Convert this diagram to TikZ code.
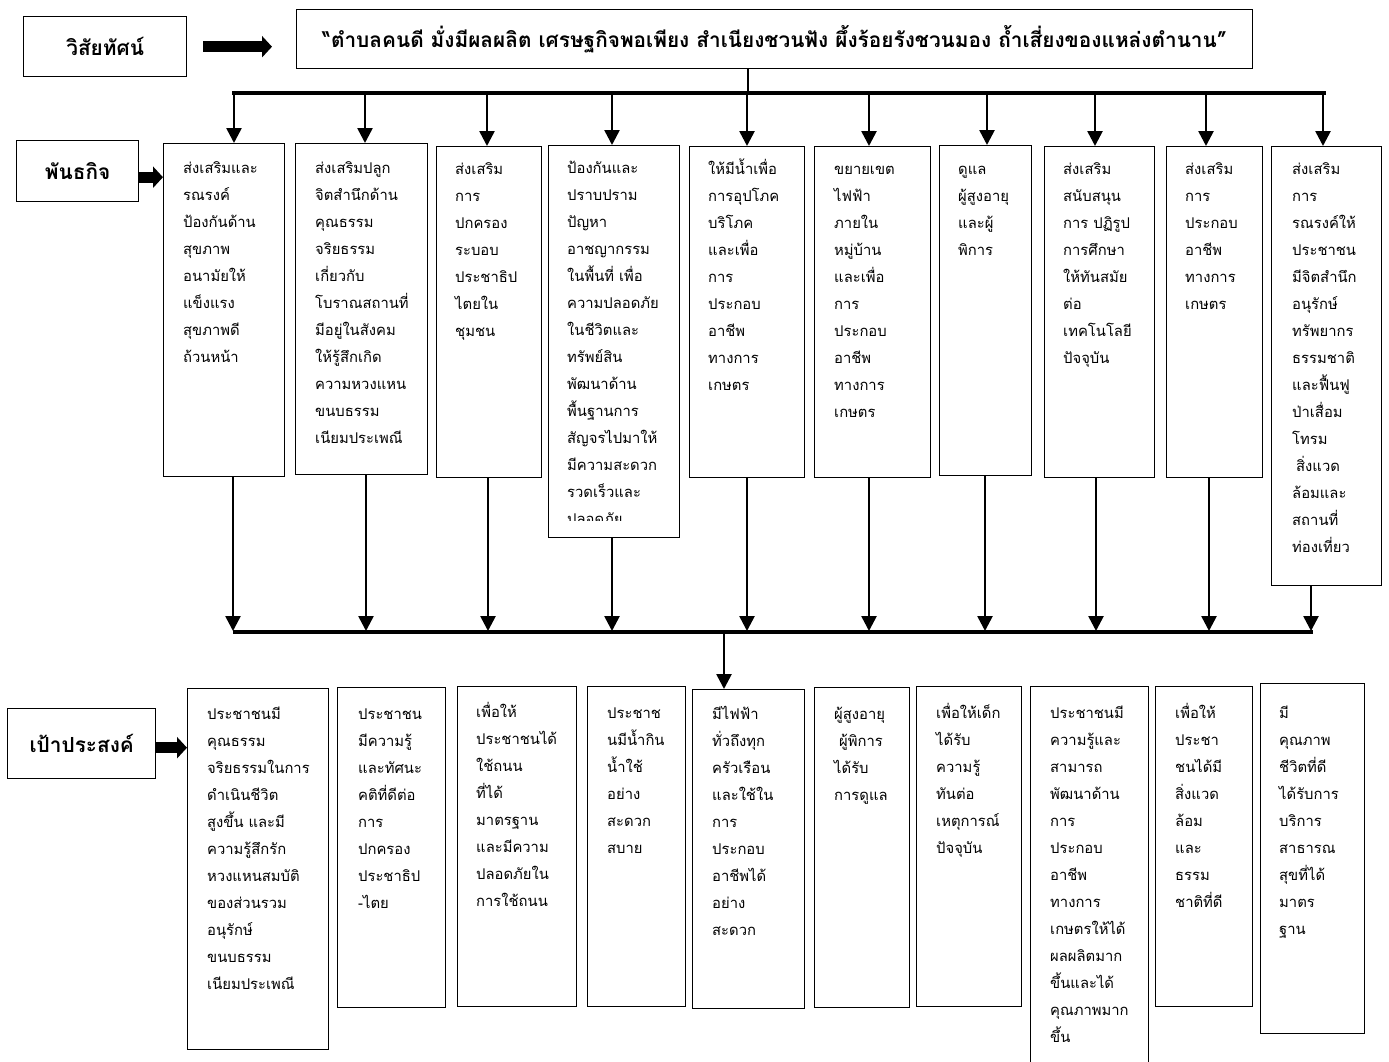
\documentclass[tikz,border=0pt]{standalone}
\usepackage{fontspec}
\newfontfamily\thaifont[Script=Thai]{Loma}
\usetikzlibrary{positioning,arrows.meta}

\tikzset{
	card/.style={draw, line width=1.4pt, anchor=north west, inner sep=0pt},
	title/.style={card, font=\thaifont\bfseries\fontsize{20.8}{24}\selectfont},
	words/.style={anchor=base west, inner sep=0pt, text width=125pt, align=left, font=\thaifont\fontsize{14.8}{27}\selectfont},
	flow/.style={line width=2.6pt, -{Triangle[width=15pt,length=15pt]}},
	bus/.style={line width=4pt},
	fat/.style={line width=11pt, -{Triangle[width=21pt,length=10pt]}}
}

\begin{document}
\begin{tikzpicture}[x=1pt,y=-1pt]
		\useasboundingbox (0,0) rectangle (1389,1061);
		
		% vision
		\node[title, minimum width=163pt, minimum height=60pt] (vis) at (23,16) {วิสัยทัศน์};
		\node[title, minimum width=956pt, minimum height=59pt] (vision) at (296,9) {“ตำบลคนดี มั่งมีผลผลิต เศรษฐกิจพอเพียง สำเนียงชวนฟัง ผึ้งร้อยรังชวนมอง ถ้ำเสี่ยงของแหล่งตำนาน”};
		\draw[fat] ([xshift=16pt]vis.east) -- ([xshift=-24pt]vision.west |- vis.east);
		
		% mission boxes
		\node[title, minimum width=122pt, minimum height=61pt] (mis) at (16,140) {พันธกิจ};
		\node[card, minimum width=121pt, minimum height=333pt] (m1) at (163,143) {};
		\node[card, minimum width=132pt, minimum height=331pt] (m2) at (295,143) {};
		\node[card, minimum width=105pt, minimum height=331pt] (m3) at (436,146) {};
		\node[card, minimum width=131pt, minimum height=392pt] (m4) at (548,145) {};
		\node[card, minimum width=115pt, minimum height=331pt] (m5) at (689,146) {};
		\node[card, minimum width=116pt, minimum height=331pt] (m6) at (814,146) {};
		\node[card, minimum width=92pt, minimum height=330pt] (m7) at (939,145) {};
		\node[card, minimum width=110pt, minimum height=331pt] (m8) at (1044,146) {};
		\node[card, minimum width=96pt, minimum height=331pt] (m9) at (1166,146) {};
		\node[card, minimum width=110pt, minimum height=439pt] (m10) at (1271,146) {};
		\draw[fat] ([yshift=-6pt]mis.east) -- ([yshift=-6pt]mis.east -| m1.west);
		
		\node[words] (tm1) at ([shift={(20,30)}]m1.north west) {ส่งเสริมและ\\รณรงค์\\ป้องกันด้าน\\สุขภาพ\\อนามัยให้\\แข็งแรง\\สุขภาพดี\\ถ้วนหน้า};
		\node[words] (tm2) at ([shift={(20,30)}]m2.north west) {ส่งเสริมปลูก\\จิตสำนึกด้าน\\คุณธรรม\\จริยธรรม\\เกี่ยวกับ\\โบราณสถานที่\\มีอยู่ในสังคม\\ให้รู้สึกเกิด\\ความหวงแหน\\ขนบธรรม\\เนียมประเพณี};
		\node[words] (tm3) at ([shift={(19,28)}]m3.north west) {ส่งเสริม\\การ\\ปกครอง\\ระบอบ\\ประชาธิป\\ไตยใน\\ชุมชน};
		\begin{scope}
			\clip (548,145) rectangle (679,520);
			\node[words] (tm4) at ([shift={(19,28)}]m4.north west) {ป้องกันและ\\ปราบปราม\\ปัญหา\\อาชญากรรม\\ในพื้นที่ เพื่อ\\ความปลอดภัย\\ในชีวิตและ\\ทรัพย์สิน\\พัฒนาด้าน\\พื้นฐานการ\\สัญจรไปมาให้\\มีความสะดวก\\รวดเร็วและ\\ปลอดภัย};
		\end{scope}
		\node[words] (tm5) at ([shift={(19,28)}]m5.north west) {ให้มีน้ำเพื่อ\\การอุปโภค\\บริโภค\\และเพื่อ\\การ\\ประกอบ\\อาชีพ\\ทางการ\\เกษตร};
		\node[words] (tm6) at ([shift={(20,28)}]m6.north west) {ขยายเขต\\ไฟฟ้า\\ภายใน\\หมู่บ้าน\\และเพื่อ\\การ\\ประกอบ\\อาชีพ\\ทางการ\\เกษตร};
		\node[words] (tm7) at ([shift={(19,29)}]m7.north west) {ดูแล\\ผู้สูงอายุ\\และผู้\\พิการ};
		\node[words] (tm8) at ([shift={(19,28)}]m8.north west) {ส่งเสริม\\สนับสนุน\\การ ปฏิรูป\\การศึกษา\\ให้ทันสมัย\\ต่อ\\เทคโนโลยี\\ปัจจุบัน};
		\node[words] (tm9) at ([shift={(19,28)}]m9.north west) {ส่งเสริม\\การ\\ประกอบ\\อาชีพ\\ทางการ\\เกษตร};
		\node[words] (tm10) at ([shift={(21,28)}]m10.north west) {ส่งเสริม\\การ\\รณรงค์ให้\\ประชาชน\\มีจิตสำนึก\\อนุรักษ์\\ทรัพยากร\\ธรรมชาติ\\และฟื้นฟู\\ป่าเสื่อม\\โทรม\\\hspace*{4pt}สิ่งแวด\\ล้อมและ\\สถานที่\\ท่องเที่ยว};
		
		% upper bus
		\coordinate (top) at (748,93);
		\coordinate (ul) at (232,93);
		\coordinate (ur) at (1326,93);
		\draw[line width=2.6pt] (top |- vision.south) -- (top);
		\draw[bus] (ul) -- (ur);
		\coordinate (u1) at (234,93);
		\coordinate (u2) at (365,93);
		\coordinate (u3) at (487,93);
		\coordinate (u4) at (612,93);
		\coordinate (u5) at (747,93);
		\coordinate (u6) at (869,93);
		\coordinate (u7) at (987,93);
		\coordinate (u8) at (1095,93);
		\coordinate (u9) at (1206,93);
		\coordinate (u10) at (1323,93);
		\draw[flow] (u1) -- (u1 |- m1.north);
		\draw[flow] (u2) -- (u2 |- m2.north);
		\draw[flow] (u3) -- (u3 |- m3.north);
		\draw[flow] (u4) -- (u4 |- m4.north);
		\draw[flow] (u5) -- (u5 |- m5.north);
		\draw[flow] (u6) -- (u6 |- m6.north);
		\draw[flow] (u7) -- (u7 |- m7.north);
		\draw[flow] (u8) -- (u8 |- m8.north);
		\draw[flow] (u9) -- (u9 |- m9.north);
		\draw[flow] (u10) -- (u10 |- m10.north);
		
		% lower bus
		\coordinate (dl) at (233,632);
		\coordinate (dr) at (1313,632);
		\draw[bus] (dl) -- (dr);
		\coordinate (d1) at (233,631);
		\coordinate (d2) at (366,631);
		\coordinate (d3) at (488,631);
		\coordinate (d4) at (612,631);
		\coordinate (d5) at (747,631);
		\coordinate (d6) at (869,631);
		\coordinate (d7) at (985,631);
		\coordinate (d8) at (1096,631);
		\coordinate (d9) at (1209,631);
		\coordinate (d10) at (1311,631);
		\draw[flow] (d1 |- m1.south) -- (d1);
		\draw[flow] (d2 |- m2.south) -- (d2);
		\draw[flow] (d3 |- m3.south) -- (d3);
		\draw[flow] (d4 |- m4.south) -- (d4);
		\draw[flow] (d5 |- m5.south) -- (d5);
		\draw[flow] (d6 |- m6.south) -- (d6);
		\draw[flow] (d7 |- m7.south) -- (d7);
		\draw[flow] (d8 |- m8.south) -- (d8);
		\draw[flow] (d9 |- m9.south) -- (d9);
		\draw[flow] (d10 |- m10.south) -- (d10);
		
		% goal boxes
		\node[title, minimum width=148pt, minimum height=70pt] (goal) at (7,708) {เป้าประสงค์};
		\node[card, minimum width=141pt, minimum height=361pt] (g1) at (187,688) {};
		\node[card, minimum width=108pt, minimum height=320pt] (g2) at (337,687) {};
		\node[card, minimum width=119pt, minimum height=320pt] (g3) at (457,686) {};
		\node[card, minimum width=98pt, minimum height=320pt] (g4) at (587,686) {};
		\node[card, minimum width=112pt, minimum height=319pt] (g5) at (692,689) {};
		\node[card, minimum width=95pt, minimum height=320pt] (g6) at (814,687) {};
		\node[card, minimum width=105pt, minimum height=320pt] (g7) at (916,686) {};
		\node[card, minimum width=118pt, minimum height=382pt] (g8) at (1030,686) {};
		\node[card, minimum width=97pt, minimum height=320pt] (g9) at (1155,686) {};
		\node[card, minimum width=104pt, minimum height=350pt] (g10) at (1260,683) {};
		\coordinate (dg) at (724,632);
		\draw[flow] (dg) -- (dg |- g5.north);
		\draw[fat] ([yshift=-4pt]goal.east) -- ([yshift=-4pt]goal.east -| g1.west);
		
		\node[words] (tg1) at ([shift={(20,31)}]g1.north west) {ประชาชนมี\\คุณธรรม\\จริยธรรมในการ\\ดำเนินชีวิต\\สูงขึ้น และมี\\ความรู้สึกรัก\\หวงแหนสมบัติ\\ของส่วนรวม\\อนุรักษ์\\ขนบธรรม\\เนียมประเพณี};
		\node[words] (tg2) at ([shift={(21,32)}]g2.north west) {ประชาชน\\มีความรู้\\และทัศนะ\\คติที่ดีต่อ\\การ\\ปกครอง\\ประชาธิป\\-ไตย};
		\node[words] (tg3) at ([shift={(19,31)}]g3.north west) {เพื่อให้\\ประชาชนได้\\ใช้ถนน\\ที่ได้\\มาตรฐาน\\และมีความ\\ปลอดภัยใน\\การใช้ถนน};
		\node[words] (tg4) at ([shift={(20,32)}]g4.north west) {ประชาช\\นมีน้ำกิน\\น้ำใช้\\อย่าง\\สะดวก\\สบาย};
		\node[words] (tg5) at ([shift={(20,30)}]g5.north west) {มีไฟฟ้า\\ทั่วถึงทุก\\ครัวเรือน\\และใช้ใน\\การ\\ประกอบ\\อาชีพได้\\อย่าง\\สะดวก};
		\node[words] (tg6) at ([shift={(20,32)}]g6.north west) {ผู้สูงอายุ\\\hspace*{5pt}ผู้พิการ\\ได้รับ\\การดูแล};
		\node[words] (tg7) at ([shift={(20,32)}]g7.north west) {เพื่อให้เด็ก\\ได้รับ\\ความรู้\\ทันต่อ\\เหตุการณ์\\ปัจจุบัน};
		\node[words] (tg8) at ([shift={(20,32)}]g8.north west) {ประชาชนมี\\ความรู้และ\\สามารถ\\พัฒนาด้าน\\การ\\ประกอบ\\อาชีพ\\ทางการ\\เกษตรให้ได้\\ผลผลิตมาก\\ขึ้นและได้\\คุณภาพมาก\\ขึ้น};
		\node[words] (tg9) at ([shift={(20,32)}]g9.north west) {เพื่อให้\\ประชา\\ชนได้มี\\สิ่งแวด\\ล้อม\\และ\\ธรรม\\ชาติที่ดี};
		\node[words] (tg10) at ([shift={(19,35)}]g10.north west) {มี\\คุณภาพ\\ชีวิตที่ดี\\ได้รับการ\\บริการ\\สาธารณ\\สุขที่ได้\\มาตร\\ฐาน};
	\end{tikzpicture}
\end{document}
